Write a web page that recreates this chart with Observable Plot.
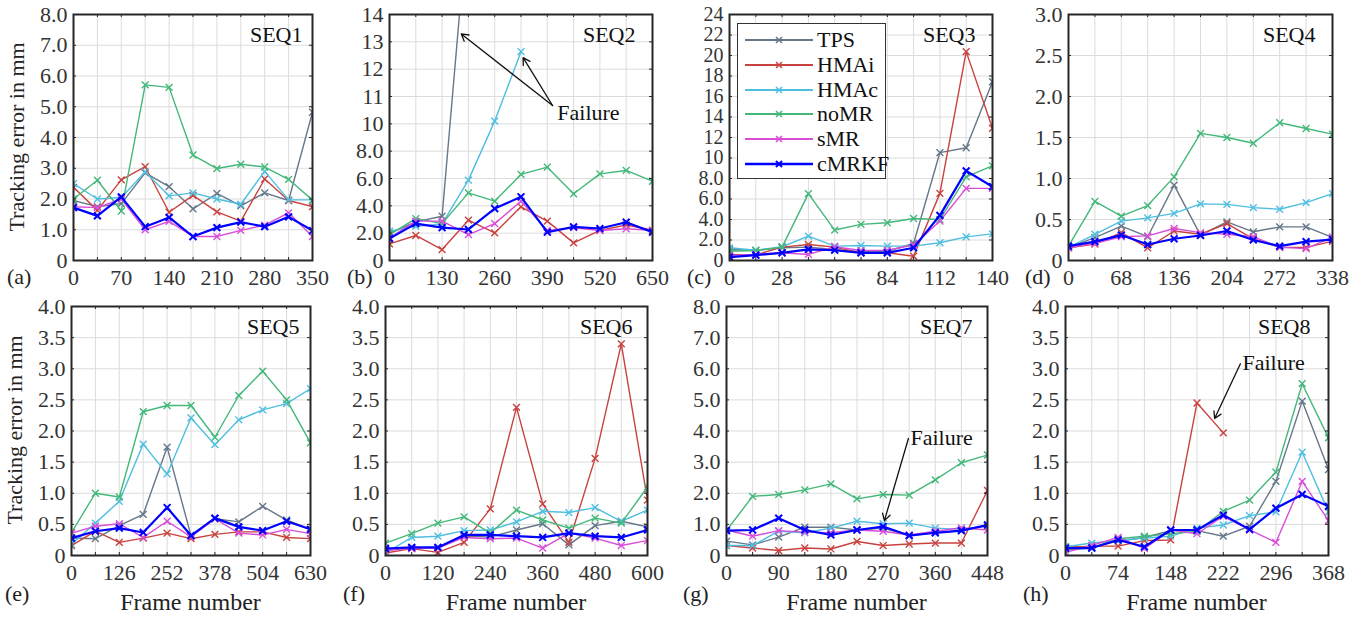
<!DOCTYPE html>
<html><head><meta charset="utf-8">
<script src="https://cdn.jsdelivr.net/npm/d3@7"></script>
<script src="https://cdn.jsdelivr.net/npm/@observablehq/plot@0.6"></script>
<style>
body{margin:0;background:#fff;}
#root{position:relative;width:1363px;height:617px;font-family:"Liberation Serif",serif;color:#262626;overflow:hidden}
.abs{position:absolute;white-space:nowrap;line-height:1;font-size:22px}
.pan{position:absolute}
.pan svg{display:block;max-width:none}
#legend{position:absolute;left:737px;top:23px;width:147px;height:154px;border:1.6px solid #333;background:#fff}
</style></head><body><div id="root"></div>
<script>
const methods = ["TPS","HMAi","HMAc","noMR","sMR","cMRKF"];
const colors  = ["#66778a","#c8423f","#4fbfe0","#43b879","#d94ed9","#0000ff"];
const frameIdx = [0,1,2,3,4,5,6,7,8,9,10];

// x tick labels (at every second frame sample)
const xLabels1 = [0,70,140,210,280,350];
const xLabels2 = [0,130,260,390,520,650];
const xLabels3 = [0,28,56,84,112,140];
const xLabels4 = [0,68,136,204,272,338];
const xLabels5 = [0,126,252,378,504,630];
const xLabels6 = [0,120,240,360,480,600];
const xLabels7 = [0,90,180,270,360,448];
const xLabels8 = [0,74,148,222,296,368];

// y ticks
const yTicks1 = [0,1,2,3,4,5,6,7,8];
const yTicks2 = [0,2,4,6,8,10,11,12,13,14];
const yTicks3 = [0,2,4,6,8,10,12,14,16,18,20,22,24];
const yTicks4 = [0,0.5,1,1.5,2,2.5,3];
const yTicks5 = [0,0.5,1,1.5,2,2.5,3,3.5,4];
const yTicks7 = [0,1,2,3,4,5,6,7,8];

// tracking errors (mm), one value per sample
const SEQ1 = {
  TPS:   [1.95,1.75,1.85,2.85,2.4,1.68,2.18,1.78,2.2,1.95,4.82],
  HMAi:  [2.38,1.63,2.62,3.05,1.57,2.12,1.58,1.28,2.65,1.95,1.75],
  HMAc:  [2.5,2.0,2.05,2.88,2.1,2.2,2.0,1.83,2.9,1.97,1.97],
  noMR:  [2.0,2.61,1.61,5.71,5.63,3.43,2.99,3.13,3.04,2.64,1.96],
  sMR:   [1.75,1.72,2.0,1.0,1.27,0.78,0.78,0.98,1.15,1.55,0.78],
  cMRKF: [1.72,1.45,2.07,1.1,1.4,0.78,1.07,1.25,1.1,1.42,0.97]
};
const SEQ2 = {
  TPS:   [2.0,2.83,3.24,17.8],
  HMAi:  [1.22,1.83,0.8,2.95,2.02,3.93,2.88,1.29,2.2,2.6,2.22],
  HMAc:  [2.15,2.5,2.68,5.88,10.1,12.64],
  noMR:  [1.9,3.07,2.7,4.95,4.34,6.3,6.83,4.88,6.34,6.59,5.8],
  sMR:   [1.66,2.88,2.88,1.9,2.7,4.34,2.2,2.4,2.2,2.32,2.2],
  cMRKF: [1.6,2.7,2.4,2.27,3.8,4.66,2.07,2.46,2.34,2.8,2.07]
};
const SEQ3 = {
  TPS:   [1.08,0.98,1.24,1.3,1.08,0.85,0.9,1.66,10.53,11.0,17.44],
  HMAi:  [0.6,0.55,1.3,1.56,1.3,0.75,0.75,0.42,6.55,20.38,12.9],
  HMAc:  [1.24,1.0,1.34,2.38,1.4,1.47,1.4,1.4,1.73,2.31,2.6],
  noMR:  [0.9,0.98,1.3,6.52,2.97,3.52,3.68,4.1,4.0,8.15,9.23],
  sMR:   [0.5,0.6,0.75,0.59,1.34,0.98,1.0,1.5,3.85,7.04,7.04],
  cMRKF: [0.33,0.52,0.75,1.08,1.0,0.75,0.75,1.24,4.4,8.74,7.2]
};
const SEQ4 = {
  TPS:   [0.16,0.28,0.42,0.29,0.92,0.31,0.47,0.35,0.41,0.41,0.28],
  HMAi:  [0.155,0.2,0.34,0.155,0.36,0.32,0.45,0.265,0.16,0.16,0.235],
  HMAc:  [0.16,0.32,0.48,0.52,0.575,0.69,0.685,0.645,0.625,0.705,0.815],
  noMR:  [0.175,0.72,0.54,0.67,1.02,1.55,1.5,1.43,1.68,1.61,1.54],
  sMR:   [0.155,0.21,0.29,0.3,0.39,0.34,0.32,0.29,0.16,0.145,0.285],
  cMRKF: [0.175,0.23,0.31,0.195,0.265,0.305,0.36,0.25,0.175,0.23,0.255]
};
const SEQ5 = {
  TPS:   [0.28,0.27,0.48,0.66,1.74,0.32,0.59,0.54,0.79,0.57,0.42],
  HMAi:  [0.16,0.39,0.21,0.28,0.36,0.27,0.34,0.38,0.38,0.29,0.27],
  HMAc:  [0.18,0.52,0.87,1.79,1.31,2.21,1.78,2.18,2.34,2.44,2.68],
  noMR:  [0.37,1.0,0.94,2.31,2.41,2.41,1.9,2.57,2.96,2.5,1.81],
  sMR:   [0.36,0.47,0.51,0.29,0.55,0.3,0.59,0.36,0.33,0.42,0.35],
  cMRKF: [0.28,0.39,0.44,0.37,0.77,0.32,0.6,0.46,0.4,0.55,0.42]
};
const SEQ6 = {
  TPS:   [0.11,0.12,0.12,0.31,0.3,0.41,0.51,0.17,0.48,0.55,0.46],
  HMAi:  [0.04,0.11,0.05,0.21,0.75,2.38,0.83,0.21,1.56,3.4,0.89],
  HMAc:  [0.04,0.29,0.31,0.4,0.41,0.54,0.71,0.69,0.77,0.55,0.73],
  noMR:  [0.2,0.35,0.52,0.62,0.36,0.73,0.57,0.44,0.6,0.52,1.1],
  sMR:   [0.08,0.11,0.12,0.29,0.27,0.28,0.12,0.36,0.28,0.16,0.24],
  cMRKF: [0.11,0.13,0.13,0.33,0.33,0.31,0.29,0.36,0.31,0.29,0.41]
};
const SEQ7 = {
  TPS:   [0.46,0.34,0.59,0.91,0.91,0.82,0.88,0.64,0.73,0.8,0.96],
  HMAi:  [0.32,0.24,0.16,0.24,0.21,0.45,0.32,0.37,0.4,0.4,2.09],
  HMAc:  [0.32,0.32,0.78,0.73,0.88,1.1,1.02,1.04,0.88,0.84,0.96],
  noMR:  [0.8,1.9,1.96,2.11,2.3,1.82,1.96,1.94,2.43,2.98,3.23],
  sMR:   [0.82,0.62,0.8,0.75,0.73,0.82,0.78,0.66,0.78,0.89,0.82],
  cMRKF: [0.8,0.82,1.2,0.82,0.66,0.82,0.93,0.64,0.73,0.8,0.98]
};
const SEQ8 = {
  TPS:   [0.14,0.13,0.23,0.29,0.4,0.4,0.31,0.47,1.19,2.48,1.38],
  HMAi:  [0.13,0.15,0.15,0.24,0.25,2.45,1.97],
  HMAc:  [0.14,0.2,0.24,0.28,0.31,0.44,0.49,0.64,0.7,1.66,0.7],
  noMR:  [0.09,0.12,0.27,0.31,0.35,0.39,0.71,0.89,1.34,2.76,1.89],
  sMR:   [0.05,0.16,0.29,0.11,0.41,0.35,0.63,0.41,0.21,1.19,0.56],
  cMRKF: [0.12,0.12,0.25,0.14,0.41,0.41,0.65,0.42,0.76,0.98,0.79]
};

// "Failure" annotations (data units: sample index, mm)
const arrows2 = [{x1:6.2,y1:10.67,x2:2.73,y2:13.29},{x1:6.2,y1:10.67,x2:5.08,y2:12.42}];
const notes2  = [{x:6.38,y:10.41,t:"Failure"}];
const arrows7 = [{x1:6.97,y1:3.76,x2:6.05,y2:1.12}];
const notes7  = [{x:7.05,y:3.79,t:"Failure"}];
const arrows8 = [{x1:6.65,y1:3.08,x2:5.67,y2:2.2}];
const notes8  = [{x:6.73,y:3.1,t:"Failure"}];

const fmt1 = d => d === 0 ? "0" : d.toFixed(1);
const fmtMixed = d => d === 0 ? "0" : (d < 10 ? d.toFixed(1) : String(d));
// broken y axis of SEQ2: 0–10 in steps of 2 and 10–14 in steps of 1 get equal spacing
const brk = v => v <= 10 ? v / 2 : 5 + (v - 10);

const panels = [
  {name:"SEQ1", data:SEQ1, xl:xLabels1, yd:[0,8],    yt:yTicks1, yf:fmt1,     fr:[73,312,14,260],   gap:10, letter:"(a)", lp:[7,277]},
  {name:"SEQ2", data:SEQ2, xl:xLabels2, yd:[0,9],    yt:yTicks2, yf:fmtMixed, fr:[389,652,14,260],  gap:17, letter:"(b)", lp:[347,277], arrows:arrows2, notes:notes2, tf:brk},
  {name:"SEQ3", data:SEQ3, xl:xLabels3, yd:[0,24],   yt:yTicks3, yf:fmtMixed, fr:[729,992,14,260],  gap:17, letter:"(c)", lp:[687,277], yfs:"20px"},
  {name:"SEQ4", data:SEQ4, xl:xLabels4, yd:[0,3],    yt:yTicks4, yf:fmt1,     fr:[1068,1332,14,260],gap:17, letter:"(d)", lp:[1025,277]},
  {name:"SEQ5", data:SEQ5, xl:xLabels5, yd:[0,4],    yt:yTicks5, yf:fmt1,     fr:[71,310,306,555],  gap:11, letter:"(e)", lp:[5,594]},
  {name:"SEQ6", data:SEQ6, xl:xLabels6, yd:[0,4],    yt:yTicks5, yf:fmt1,     fr:[385,647,306,555], gap:15, letter:"(f)", lp:[343,594]},
  {name:"SEQ7", data:SEQ7, xl:xLabels7, yd:[0,8],    yt:yTicks7, yf:fmt1,     fr:[726,987,306,555], gap:15, letter:"(g)", lp:[683,594], arrows:arrows7, notes:notes7},
  {name:"SEQ8", data:SEQ8, xl:xLabels8, yd:[0,4],    yt:yTicks5, yf:fmt1,     fr:[1065,1328,306,555],gap:18, letter:"(h)", lp:[1023,594], arrows:arrows8, notes:notes8}
];

const root = document.getElementById("root");
function addDiv(html, css, cls="abs") {
  const d = document.createElement("div");
  d.className = cls; d.innerHTML = html; Object.assign(d.style, css);
  root.appendChild(d); return d;
}

const ML = 60, MR = 8, MT = 10, MB = 34, TK = 3;
panels.forEach(p => {
  const [l, r, t, b] = p.fr;
  const W = r - l + ML + MR, H = b - t + MT + MB;
  const fw = r - l, fh = b - t;
  const yOpts = {domain:p.yd, label:null};
  const marks = [
    Plot.ruleX(frameIdx, {stroke:"#dcdcdc", strokeWidth:1}),
    Plot.ruleY(p.yt, {stroke:"#dcdcdc", strokeWidth:1})
  ];
  if (p.tf) {
    yOpts.transform = p.tf;
    yOpts.axis = null;
    marks.push(Plot.text(p.yt, {y:d => d, text:p.yf, frameAnchor:"left", textAnchor:"end", dx:-6, fontSize:22, fill:"#333"}));
  } else {
    Object.assign(yOpts, {ticks:p.yt, tickFormat:p.yf, tickSize:0, tickPadding:6});
  }
  methods.forEach((m, k) => {
    const rows = (p.data[m] || []).map((v, i) => ({i, v}));
    const thick = m === "cMRKF";
    marks.push(Plot.line(rows, {x:"i", y:"v", stroke:colors[k], strokeWidth: thick ? 2.2 : 1.4, clip:true}));
    marks.push(Plot.dot(rows, {x:"i", y:"v", stroke:colors[k], symbol:"times", r:3.2, strokeWidth: thick ? 2 : 1.4, clip:true}));
  });
  if (p.arrows) marks.push(Plot.arrow(p.arrows, {x1:"x1", y1:"y1", x2:"x2", y2:"y2", stroke:"#111", strokeWidth:1.3, headLength:9}));
  if (p.notes) marks.push(Plot.text(p.notes, {x:"x", y:"y", text:"t", textAnchor:"start", lineAnchor:"middle", fontSize:22, fill:"#111"}));
  marks.push(Plot.text([p.name], {text:d => d, frameAnchor:"top-right", dx:-p.gap, dy:20, lineAnchor:"middle", textAnchor:"end", fontSize:22, fill:"#111"}));
  // inward tick marks on all four sides of the box
  marks.push(Plot.ruleX(frameIdx, {stroke:"#262626", strokeWidth:1, insetTop:fh - TK}));
  marks.push(Plot.ruleX(frameIdx, {stroke:"#262626", strokeWidth:1, insetBottom:fh - TK}));
  marks.push(Plot.ruleY(p.yt, {stroke:"#262626", strokeWidth:1, insetRight:fw - TK}));
  marks.push(Plot.ruleY(p.yt, {stroke:"#262626", strokeWidth:1, insetLeft:fw - TK}));
  marks.push(Plot.frame({stroke:"#262626", strokeWidth:2}));
  const svg = Plot.plot({
    width:W, height:H, marginLeft:ML, marginRight:MR, marginTop:MT, marginBottom:MB,
    style:{background:"transparent", fontFamily:"'Liberation Serif', serif", fontSize:"22px", color:"#333", overflow:"visible"},
    x:{domain:[0,10], ticks:frameIdx, tickFormat:i => i % 2 === 0 ? String(p.xl[i/2]) : "", tickSize:0, tickPadding:9, label:null},
    y:yOpts,
    marks
  });
  if (p.yfs) {
    svg.querySelectorAll("[aria-label='y-axis'] text, [aria-label='y-axis tick label'] text").forEach(n => n.style.fontSize = p.yfs);
  }
  const holder = document.createElement("div");
  holder.className = "pan";
  Object.assign(holder.style, {left:(l - ML) + "px", top:(t - MT) + "px", width:W + "px", height:H + "px"});
  holder.appendChild(svg);
  root.appendChild(holder);
  addDiv(p.letter, {left:p.lp[0] + "px", top:p.lp[1] + "px", transform:"translateY(-50%)", color:"#222"});
  if (t > 100) addDiv("Frame number", {left:((l + r) / 2) + "px", top:"602px", transform:"translate(-50%,-50%)", color:"#222", fontSize:"24px"});
});

addDiv("Tracking error in mm", {left:"17px", top:"137px", transform:"translate(-50%,-50%) rotate(-90deg)", color:"#222"});
addDiv("Tracking error in mm", {left:"15px", top:"430px", transform:"translate(-50%,-50%) rotate(-90deg)", color:"#222"});

// legend
const leg = addDiv("", {}, "");
leg.id = "legend";
const rowY = [39,64,89,113,138,163];
methods.forEach((m, k) => {
  const y = rowY[k] - 23;
  const thick = m === "cMRKF";
  const s = document.createElementNS("http://www.w3.org/2000/svg", "svg");
  s.setAttribute("width", 72); s.setAttribute("height", 12);
  Object.assign(s.style, {position:"absolute", left:"6px", top:(y - 6) + "px"});
  s.innerHTML = `<line x1="1" y1="6" x2="69" y2="6" stroke="${colors[k]}" stroke-width="${thick ? 2.4 : 2}"/>` +
    `<path d="M32,3L38,9M38,3L32,9" stroke="${colors[k]}" stroke-width="${thick ? 2 : 1.5}"/>`;
  leg.appendChild(s);
  const tx = document.createElement("div");
  tx.className = "abs"; tx.textContent = m;
  Object.assign(tx.style, {left:"79px", top:y + "px", transform:"translateY(-50%)", color:"#111"});
  leg.appendChild(tx);
});
</script></body></html>
